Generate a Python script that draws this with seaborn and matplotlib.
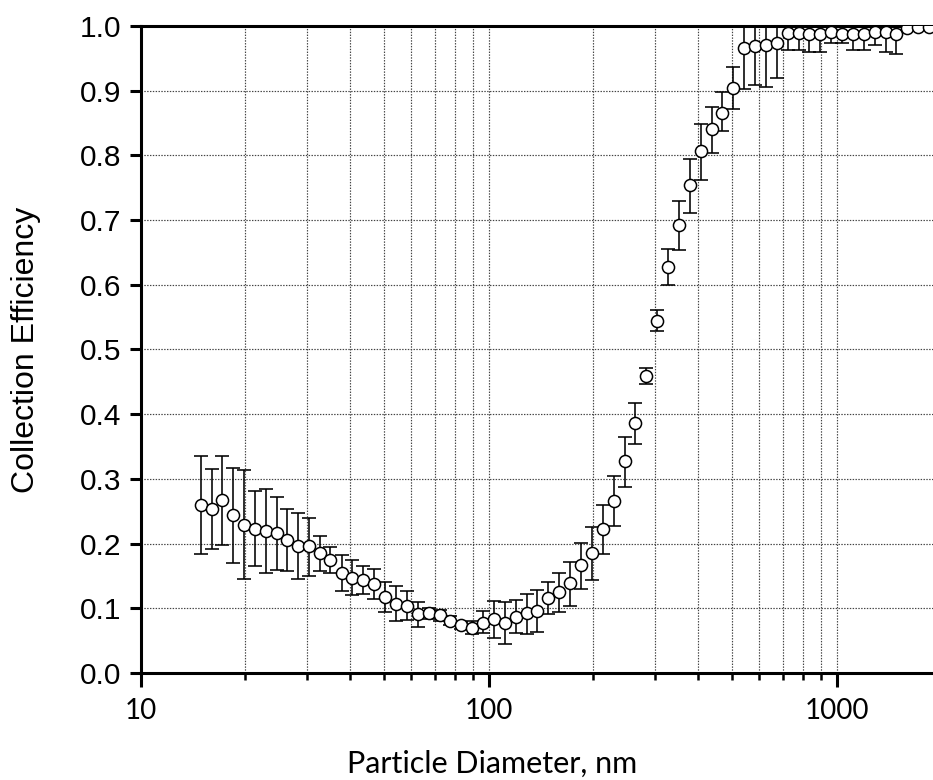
import numpy as np
import pandas as pd
import matplotlib
matplotlib.use("Agg")
import matplotlib.pyplot as plt
from matplotlib.ticker import LogLocator, NullFormatter, FixedLocator
import seaborn as sns

# Mobility diameters of the SMPS channels (nm)
diameter_nm = [14.9, 16.0, 17.1, 18.4, 19.8, 21.3, 22.9, 24.6, 26.4, 28.4,
               30.5, 32.8, 35.1, 37.8, 40.6, 43.7, 46.9, 50.5, 54.2, 58.3,
               62.6, 67.3, 72.3, 77.7, 83.5, 89.8, 96.5, 103.7, 111.4, 119.7,
               128.6, 138.2, 148.6, 159.6, 171.5, 184.3, 198.1, 212.9, 228.8, 245.8,
               264.2, 283.9, 305.1, 327.8, 352.3, 378.6, 406.8, 437.1, 469.8, 504.8,
               542.5, 583.0, 626.4, 673.2, 723.4, 777.4, 835.4, 897.7, 964.7, 1036.6,
               1113.9, 1197.0, 1286.3, 1382.3, 1485.3, 1596.1, 1715.1, 1843.0]

# Mean collection efficiency per channel
efficiency = [0.260, 0.254, 0.268, 0.244, 0.228, 0.223, 0.219, 0.217, 0.206, 0.197,
              0.196, 0.185, 0.174, 0.154, 0.147, 0.143, 0.137, 0.117, 0.107, 0.104,
              0.091, 0.092, 0.089, 0.081, 0.074, 0.070, 0.078, 0.083, 0.077, 0.087,
              0.092, 0.096, 0.116, 0.125, 0.139, 0.167, 0.185, 0.222, 0.266, 0.327,
              0.386, 0.459, 0.544, 0.627, 0.692, 0.754, 0.806, 0.840, 0.866, 0.904,
              0.966, 0.969, 0.970, 0.974, 0.989, 0.989, 0.987, 0.987, 0.990, 0.988,
              0.988, 0.988, 0.991, 0.991, 0.988, 0.997, 0.998, 0.998]

# Upper and lower ends of the error bars
eff_upper = [0.336, 0.315, 0.335, 0.317, 0.314, 0.282, 0.285, 0.272, 0.254, 0.247,
             0.239, 0.212, 0.195, 0.183, 0.174, 0.166, 0.160, 0.141, 0.135, 0.126,
             0.110, 0.101, 0.097, 0.088, 0.079, 0.080, 0.096, 0.112, 0.109, 0.113,
             0.122, 0.129, 0.140, 0.154, 0.172, 0.201, 0.225, 0.259, 0.304, 0.365,
             0.417, 0.472, 0.561, 0.655, 0.729, 0.794, 0.848, 0.875, 0.898, 0.936,
             1.030, 1.030, 1.034, 1.029, 1.015, 1.015, 1.014, 1.014, 1.007, 1.003,
             1.013, 1.013, 1.009, 1.020, 1.016, 1.000, 1.000, 1.000]
eff_lower = [0.184, 0.191, 0.198, 0.170, 0.145, 0.166, 0.154, 0.159, 0.158, 0.145,
             0.150, 0.158, 0.154, 0.126, 0.121, 0.122, 0.114, 0.094, 0.081, 0.082,
             0.071, 0.083, 0.081, 0.074, 0.068, 0.060, 0.062, 0.054, 0.045, 0.062,
             0.061, 0.063, 0.091, 0.095, 0.104, 0.130, 0.143, 0.184, 0.227, 0.288,
             0.354, 0.446, 0.528, 0.599, 0.653, 0.711, 0.762, 0.804, 0.837, 0.872,
             0.902, 0.909, 0.906, 0.919, 0.963, 0.963, 0.960, 0.960, 0.973, 0.973,
             0.963, 0.963, 0.971, 0.960, 0.957, 0.994, 0.996, 0.996]

x_tick_values = [10, 100, 1000]
x_tick_labels = ["10", "100", "1000"]
y_tick_values = [0.0, 0.1, 0.2, 0.3, 0.4, 0.5, 0.6, 0.7, 0.8, 0.9, 1.0]
y_tick_labels = ["0.0", "0.1", "0.2", "0.3", "0.4", "0.5", "0.6", "0.7", "0.8", "0.9", "1.0"]

df = pd.DataFrame({"d": diameter_nm, "ce": efficiency,
                   "hi": eff_upper, "lo": eff_lower})

sns.set_theme(style="ticks")
plt.rcParams["font.family"] = ["Liberation Sans", "DejaVu Sans"]

fig = plt.figure(figsize=(9.33, 7.8), dpi=100)
ax = fig.add_axes([0.1506, 0.1372, 0.8494, 0.8295])

# error bars underneath the open circles
ax.errorbar(df["d"], df["ce"],
            yerr=[df["ce"] - df["lo"], df["hi"] - df["ce"]],
            fmt="none", ecolor="black", elinewidth=1.15,
            capsize=4.8, capthick=1.15, zorder=2)

sns.scatterplot(data=df, x="d", y="ce", ax=ax, marker="o", s=76,
                facecolor="white", edgecolor="black", linewidth=1.1,
                zorder=3, legend=False)

ax.set_xscale("log")
ax.set_xlim(10, 1892)
ax.set_ylim(0, 1.0)

ax.xaxis.set_major_locator(FixedLocator(x_tick_values))
ax.set_xticklabels(x_tick_labels)
ax.xaxis.set_minor_locator(LogLocator(base=10, subs=np.arange(2, 10)))
ax.xaxis.set_minor_formatter(NullFormatter())
ax.set_yticks(y_tick_values)
ax.set_yticklabels(y_tick_labels)

ax.set_axisbelow(True)
ax.grid(True, which="both", axis="x", linestyle=(0, (1.2, 1.2)),
        color="#444444", linewidth=0.85)
ax.grid(True, which="major", axis="y", linestyle=(0, (1.2, 1.2)),
        color="#444444", linewidth=0.85)

for side in ["left", "bottom", "top"]:
    ax.spines[side].set_visible(True)
    ax.spines[side].set_color("black")
    ax.spines[side].set_linewidth(2.2)
ax.spines["right"].set_visible(False)

ax.tick_params(axis="y", which="major", direction="out", length=8, width=2.2,
               color="black", pad=6, labelsize=21.5, labelcolor="black")
ax.tick_params(axis="x", which="major", direction="out", length=10, width=2.2,
               color="black", pad=8, labelsize=20, labelcolor="black")
ax.tick_params(axis="x", which="minor", direction="out", length=5, width=1.8,
               color="black")
for lab in ax.get_xticklabels():
    lab.set_fontfamily(["Lato", "DejaVu Sans"])

ax.set_xlabel("Particle Diameter, nm", fontsize=22, family=["Lato", "DejaVu Sans"],
              color="black")
ax.xaxis.set_label_coords(0.4435, -0.118)
ax.set_ylabel("Collection Efficiency", fontsize=23, color="black")
ax.yaxis.set_label_coords(-0.1255, 0.5)

fig.savefig("out.png", dpi=100)
